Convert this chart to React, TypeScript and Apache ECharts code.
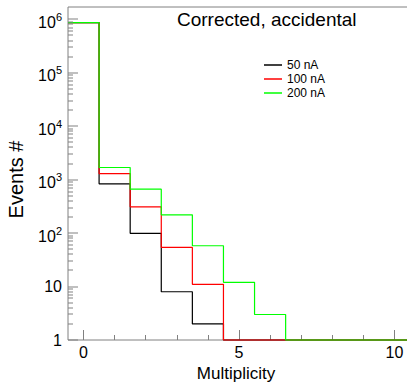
import React, { useEffect, useRef } from "react";
import * as echarts from "echarts";

// Multiplicity bins (bin centres)
const BINS = [0, 1, 2, 3, 4, 5, 6, 7, 8, 9, 10];
// Event counts per bin (0 = empty bin)
const COUNTS_50NA = [870000, 835, 99, 8, 2, 0, 0, 0, 0, 0, 0];
const COUNTS_100NA = [870000, 1300, 310, 54, 11, 0, 0, 0, 0, 0, 0];
const COUNTS_200NA = [870000, 1690, 664, 220, 58, 12, 3, 0, 0, 0, 0];
const SERIES_NAMES = ["50 nA", "100 nA", "200 nA"];
const SERIES_COLORS = ["#000000", "#ff0000", "#00ff00"];

const X_MIN = -0.5;
const X_MAX = 10.5;
const X_TICK_MIN = 0;
const X_TICK_MAX = 10;
const X_MAJOR_STEP = 5;
const X_MINOR_STEP = 1;
const Y_MIN = 1;
const Y_MAX = 1.7e6;
const Y_DECADES = [1, 10, 100, 1000, 10000, 100000, 1000000];
const Y_MINOR_MULT = [2, 3, 4, 5, 6, 7, 8, 9];

const TITLE = "Corrected, accidental";
const X_NAME = "Multiplicity";
const Y_NAME = "Events #";

const FONT = "Liberation Sans, Arial, Helvetica, sans-serif";
const AXIS_COLOR = "#808080";

const W = 410;
const H = 382;
const G_LEFT = 68;
const G_RIGHT = 0;
const G_TOP = 7;
const G_BOTTOM = 42;

function toStep(counts: number[]) {
  const pts: [number, number][] = BINS.map((b, i) => [
    b - 0.5,
    counts[i] > 0 ? counts[i] : Y_MIN,
  ]);
  const last = counts.length - 1;
  pts.push([BINS[last] + 0.5, counts[last] > 0 ? counts[last] : Y_MIN]);
  return pts;
}

export default function App() {
  const ref = useRef<HTMLDivElement>(null);
  useEffect(() => {
    if (!ref.current) return;
    const chart = echarts.init(ref.current, undefined, { renderer: "svg" });
    const plotW = W - G_LEFT - G_RIGHT;
    const pxPerUnit = plotW / (X_MAX - X_MIN);
    const auxLeft = G_LEFT + (X_TICK_MIN - X_MIN) * pxPerUnit;
    const auxRight = G_RIGHT + (X_MAX - X_TICK_MAX) * pxPerUnit;
    const logMin = Math.log10(Y_MIN);
    const logMax = Math.log10(Y_MAX);
    const allCounts = [COUNTS_50NA, COUNTS_100NA, COUNTS_200NA];
    const tickLine = { color: AXIS_COLOR, width: 1 };
    const base = { show: false, containLabel: false, outerBoundsMode: "none" };
    const hidden = (gridIndex: number) => ({ type: "value", gridIndex, show: false });

    // y-axis tick marks: [x at left edge, y value, tick length]
    const yTicks: number[][] = [];
    Y_DECADES.forEach((d) => {
      yTicks.push([X_MIN, d, 10]);
      Y_MINOR_MULT.forEach((m) => {
        if (d * m < Y_MAX) yTicks.push([X_MIN, d * m, 5]);
      });
    });

    const histSeries = SERIES_NAMES.map((name, i) => ({
      name,
      type: "line",
      step: "end",
      symbol: "none",
      clip: false,
      xAxisIndex: 0,
      yAxisIndex: 0,
      data: toStep(allCounts[i]),
      lineStyle: { color: SERIES_COLORS[i], width: 1.2 },
      itemStyle: { color: SERIES_COLORS[i] },
      z: 2 + i,
    }));

    const tickSeries = {
      type: "custom",
      name: "yTicks",
      xAxisIndex: 0,
      yAxisIndex: 0,
      silent: true,
      clip: false,
      z: 10,
      data: yTicks,
      renderItem: (_params: any, api: any) => {
        const p = api.coord([api.value(0), api.value(1)]);
        const len = api.value(2);
        return {
          type: "rect",
          shape: { x: Math.round(p[0]), y: Math.round(p[1]) - 0.5, width: len, height: 1 },
          style: { fill: AXIS_COLOR },
        };
      },
    };

    chart.setOption({
      animation: false,
      backgroundColor: "#ffffff",
      textStyle: { fontFamily: FONT },
      title: {
        text: TITLE,
        left: 177,
        top: 10,
        padding: 0,
        textStyle: { fontSize: 19, fontWeight: "normal", color: "#000", fontFamily: FONT },
      },
      legend: {
        orient: "vertical",
        left: 264,
        top: 59,
        itemWidth: 18,
        itemHeight: 1.5,
        itemGap: 2,
        padding: 0,
        icon: "rect",
        data: SERIES_NAMES,
        textStyle: { fontSize: 12, color: "#000", fontFamily: FONT, lineHeight: 12 },
      },
      grid: [
        {
          ...base,
          left: G_LEFT, top: G_TOP, right: G_RIGHT, bottom: G_BOTTOM,
          show: true, borderColor: AXIS_COLOR, borderWidth: 1,
          backgroundColor: "rgba(0,0,0,0)", z: -10,
        },
        { ...base, left: auxLeft, top: G_TOP, right: auxRight, bottom: G_BOTTOM },
        { ...base, left: auxLeft, top: G_TOP, right: auxRight, bottom: G_BOTTOM },
        { ...base, left: G_LEFT, top: G_TOP, right: G_RIGHT, bottom: G_BOTTOM },
      ],
      xAxis: [
        { type: "value", gridIndex: 0, min: X_MIN, max: X_MAX, show: false },
        {
          type: "value",
          gridIndex: 1,
          min: X_TICK_MIN,
          max: X_TICK_MAX,
          interval: X_MAJOR_STEP,
          position: "bottom",
          name: X_NAME,
          nameLocation: "middle",
          nameGap: 21,
          nameTextStyle: { fontSize: 17, color: "#000", fontFamily: FONT, padding: [0, 6, 0, 0] },
          axisLine: { show: false, onZero: false },
          axisTick: { show: true, inside: true, length: 10, lineStyle: tickLine },
          axisLabel: { fontSize: 16, color: "#000", margin: 4, fontFamily: FONT },
          splitLine: { show: false },
        },
        {
          type: "value",
          gridIndex: 2,
          min: X_TICK_MIN,
          max: X_TICK_MAX,
          interval: X_MINOR_STEP,
          position: "bottom",
          axisLine: { show: false, onZero: false },
          axisTick: { show: true, inside: true, length: 5, lineStyle: tickLine },
          axisLabel: { show: false },
          splitLine: { show: false },
        },
        hidden(3),
      ],
      yAxis: [
        { type: "log", gridIndex: 0, logBase: 10, min: Y_MIN, max: Y_MAX, show: false },
        hidden(1),
        hidden(2),
        {
          type: "value",
          gridIndex: 3,
          min: logMin,
          max: logMax,
          interval: 1,
          position: "left",
          name: Y_NAME,
          nameLocation: "middle",
          nameGap: 42,
          nameTextStyle: { fontSize: 20, color: "#000", fontFamily: FONT, padding: [0, 12, 0, 0] },
          axisLine: { show: false, onZero: false },
          axisTick: { show: false },
          axisLabel: {
            margin: 6,
            fontSize: 16,
            color: "#000",
            fontFamily: FONT,
            formatter: (v: number) => {
              const e = Math.round(v);
              if (Math.abs(e - v) > 1e-6) return "";
              if (e === 0) return "1";
              if (e === 1) return "10";
              return "{b|10}{s|" + e + "}";
            },
            rich: {
              b: { fontSize: 16, lineHeight: 16, padding: [6, 0, 0, 0], color: "#000", fontFamily: FONT },
              s: { fontSize: 11, lineHeight: 11, padding: [3, 0, 8, 0], color: "#000", fontFamily: FONT },
            },
          },
          splitLine: { show: false },
        },
      ],
      series: [...histSeries, tickSeries],
    });

    return () => chart.dispose();
  }, []);
  return (
    <div
      ref={ref}
      style={{ position: "fixed", left: 0, top: 0, width: W, height: H }}
    />
  );
}
